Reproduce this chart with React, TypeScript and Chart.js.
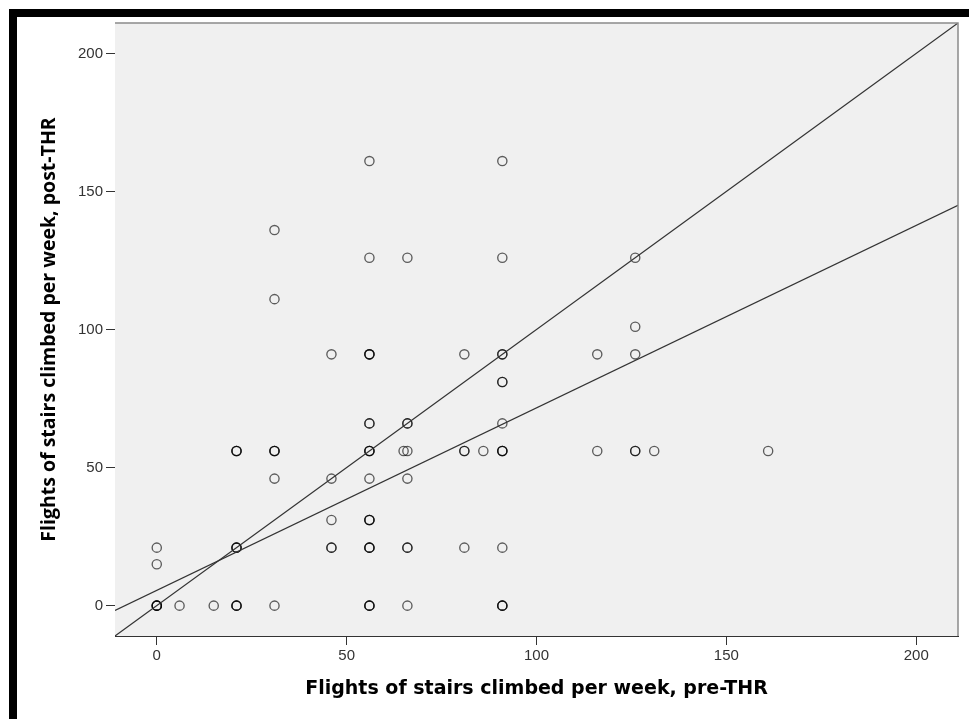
import React, { useEffect, useRef } from "react";
import { Chart, registerables } from "chart.js";

Chart.register(...registerables);

// ---- data ----
const xTickValues = [0, 50, 100, 150, 200];
const yTickValues = [0, 50, 100, 150, 200];
const axisMin = -11;
const axisMax = 211;

const preTHR = [0, 0, 0, 6, 15, 21, 21, 21, 31, 31, 31, 31, 31, 46, 46, 46, 46, 56, 56, 56, 56, 56, 56, 56, 56, 56, 65, 66, 66, 66, 66, 66, 66, 81, 81, 81, 86, 91, 91, 91, 91, 91, 91, 91, 91, 116, 116, 126, 126, 126, 126, 131, 161];
const postTHR = [0, 15, 21, 0, 0, 0, 21, 56, 0, 46, 56, 111, 136, 21, 31, 46, 91, 0, 21, 31, 46, 56, 66, 91, 126, 161, 56, 0, 21, 46, 56, 66, 126, 21, 56, 91, 56, 0, 21, 56, 66, 81, 91, 126, 161, 56, 91, 56, 91, 101, 126, 56, 56];
const overlapCount = [4, 1, 1, 1, 1, 3, 3, 3, 1, 1, 3, 1, 1, 2, 1, 1, 1, 3, 3, 3, 1, 3, 2, 3, 1, 1, 1, 1, 2, 1, 1, 2, 1, 1, 2, 1, 1, 3, 1, 3, 1, 2, 2, 1, 1, 1, 1, 2, 1, 1, 1, 1, 1];

const fitIntercept = 5.5;
const fitSlope = 0.661;

const xTitle = "Flights of stairs climbed per week, pre-THR";
const yTitle = "Flights of stairs climbed per week, post-THR";

export default function App() {
  const ref = useRef<HTMLCanvasElement | null>(null);

  useEffect(() => {
    if (!ref.current) return;
    const points: { x: number; y: number }[] = [];
    preTHR.forEach((x, i) => {
      for (let k = 0; k < overlapCount[i]; k++) points.push({ x, y: postTHR[i] });
    });
    const identity = [
      { x: axisMin, y: axisMin },
      { x: axisMax, y: axisMax },
    ];
    const fit = [
      { x: axisMin, y: fitIntercept + fitSlope * axisMin },
      { x: axisMax, y: fitIntercept + fitSlope * axisMax },
    ];

    const framePlugin = {
      id: "frame",
      beforeDatasetsDraw(chart: any) {
        const { ctx, chartArea: a } = chart;
        ctx.save();
        ctx.fillStyle = "#f0f0f0";
        ctx.fillRect(a.left, a.top, a.right - a.left, a.bottom - a.top);
        ctx.restore();
      },
      afterDraw(chart: any) {
        const { ctx, chartArea: a } = chart;
        ctx.save();
        ctx.strokeStyle = "#8a8a8a";
        ctx.lineWidth = 1.5;
        ctx.beginPath();
        ctx.moveTo(a.left, a.top);
        ctx.lineTo(a.right, a.top);
        ctx.lineTo(a.right, a.bottom);
        ctx.stroke();
        ctx.restore();
      },
    };

    const tickFont = { family: "'Liberation Sans', Arial, sans-serif", size: 15 };

    const chart = new Chart(ref.current, {
      type: "scatter",
      data: {
        datasets: [
          {
            type: "line",
            data: identity,
            borderColor: "#333333",
            borderWidth: 1.2,
            pointRadius: 0,
            fill: false,
          } as any,
          {
            type: "line",
            data: fit,
            borderColor: "#333333",
            borderWidth: 1.2,
            pointRadius: 0,
            fill: false,
          } as any,
          {
            type: "scatter",
            data: points,
            pointRadius: 4.6,
            pointBorderWidth: 1.35,
            borderColor: "rgba(0,0,0,0.62)",
            backgroundColor: "rgba(0,0,0,0)",
          } as any,
        ],
      },
      options: {
        animation: false,
        responsive: false,
        devicePixelRatio: 1,
        layout: { padding: { left: 0, top: 6, right: 11, bottom: 0 } },
        plugins: { legend: { display: false }, tooltip: { enabled: false } },
        scales: {
          x: {
            type: "linear",
            min: axisMin,
            max: axisMax,
            afterBuildTicks: (s: any) => {
              s.ticks = xTickValues.map((v) => ({ value: v }));
            },
            afterFit: (s: any) => {
              s.height = 83;
              s.paddingLeft = 0;
              s.paddingRight = 0;
            },
            grid: { drawOnChartArea: false, drawTicks: true, tickLength: 9, color: "#333333", lineWidth: 1 },
            border: { display: true, color: "#333333", width: 1 },
            ticks: { color: "#333333", font: tickFont, padding: 2, maxRotation: 0 },
            title: {
              display: true,
              text: xTitle,
              color: "#000000",
              font: { family: "'DejaVu Sans', sans-serif", weight: "bold", size: 19 },
              padding: { top: 0, bottom: 19 },
            },
          },
          y: {
            type: "linear",
            min: axisMin,
            max: axisMax,
            afterBuildTicks: (s: any) => {
              s.ticks = yTickValues.map((v) => ({ value: v }));
            },
            afterFit: (s: any) => {
              s.width = 98;
              s.paddingTop = 0;
              s.paddingBottom = 0;
            },
            grid: { drawOnChartArea: false, drawTicks: true, tickLength: 9, color: "#333333", lineWidth: 1 },
            border: { display: true, color: "#333333", width: 1 },
            ticks: { color: "#333333", font: tickFont, padding: 3 },
            title: {
              display: true,
              text: yTitle,
              color: "#000000",
              font: { family: "'Open Sans', sans-serif", weight: "bold", size: 19.5 },
              padding: { top: 21, bottom: 0 },
            },
          },
        },
      },
      plugins: [framePlugin],
    });
    return () => chart.destroy();
  }, []);

  return (
    <div
      style={{
        position: "absolute",
        left: 9,
        top: 9,
        width: 960,
        height: 710,
        borderTop: "8px solid #000",
        borderLeft: "8px solid #000",
        background: "#fff",
        boxSizing: "border-box",
      }}
    >
      <canvas ref={ref} width={952} height={702} style={{ display: "block", width: 952, height: 702 }} />
    </div>
  );
}
